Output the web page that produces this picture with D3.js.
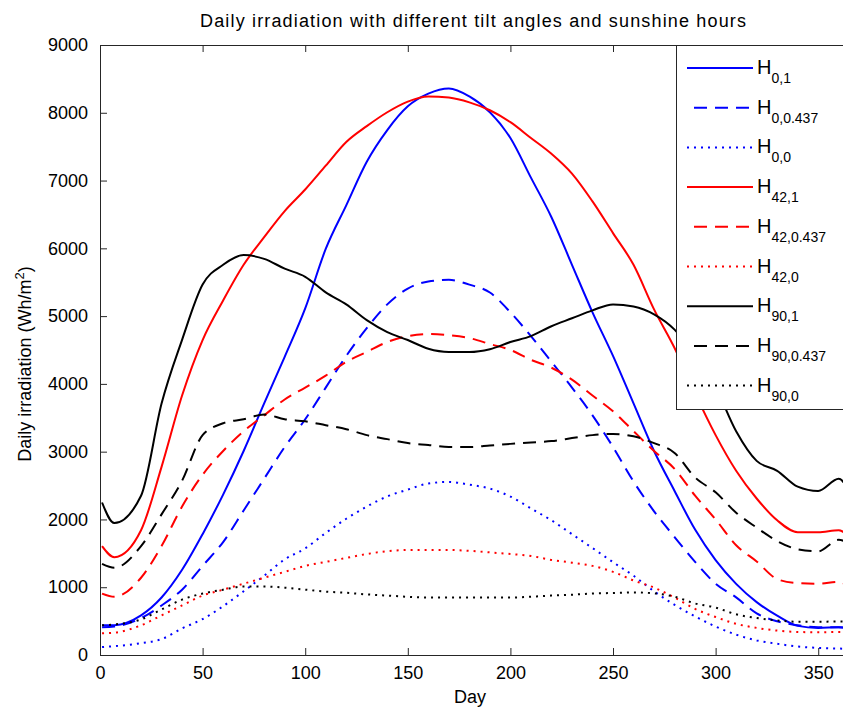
<!DOCTYPE html>
<html>
<head>
<meta charset="utf-8">
<script src="https://cdn.jsdelivr.net/npm/d3@7"></script>
<style>
  body { margin: 0; background: #fff; }
  svg { display: block; font-family: "Liberation Sans", Arial, sans-serif; }
</style>
</head>
<body>
<svg width="843" height="717"></svg>
<script>
const days = [1, 7, 20, 30, 40, 50, 60, 70, 80, 90, 100, 110, 120, 130, 140, 150, 160, 170, 180,
  190, 200, 210, 220, 230, 240, 250, 260, 270, 280, 290, 300, 310, 320, 330, 340, 350, 360, 365];

const h0_1 = [438, 440, 585, 848, 1257, 1783, 2367, 3010, 3712, 4400, 5114, 5991, 6634, 7277, 7745, 8095, 8282, 8358, 8241,
  8008, 7628, 7043, 6459, 5757, 5056, 4413, 3712, 3010, 2420, 1850, 1400, 1050, 780, 580, 430, 400, 410, 400];
const h0_0437 = [409, 420, 544, 731, 964, 1315, 1666, 2133, 2601, 3069, 3478, 3945, 4413, 4822, 5173, 5407, 5512, 5535, 5465,
  5348, 5056, 4705, 4325, 3945, 3536, 3069, 2560, 2120, 1740, 1374, 1052, 850, 614, 497, 438, 409, 409, 400];
const h0_0 = [117, 130, 175, 234, 393, 530, 720, 940, 1170, 1410, 1573, 1800, 2010, 2190, 2340, 2440, 2530, 2554, 2513,
  2455, 2338, 2163, 1987, 1783, 1578, 1370, 1170, 940, 740, 570, 420, 300, 215, 165, 125, 105, 95, 90];
const h42_1 = [1607, 1444, 1841, 2776, 3828, 4647, 5231, 5757, 6166, 6550, 6868, 7219, 7569, 7803, 8008, 8165, 8241, 8224, 8154,
  8037, 7861, 7628, 7394, 7102, 6692, 6225, 5757, 5100, 4530, 3860, 3244, 2718, 2309, 1987, 1812, 1812, 1841, 1750];
const h42_0437 = [906, 859, 1140, 1607, 2192, 2659, 3010, 3302, 3536, 3770, 3945, 4121, 4325, 4471, 4618, 4705, 4735, 4717, 4676,
  4588, 4501, 4355, 4238, 4062, 3828, 3595, 3302, 3010, 2747, 2350, 2000, 1620, 1380, 1120, 1060, 1052, 1080, 1000];
const h42_0 = [321, 330, 438, 585, 731, 877, 964, 1052, 1140, 1227, 1315, 1374, 1432, 1490, 1531, 1549, 1549, 1549, 1537,
  1514, 1490, 1461, 1403, 1362, 1315, 1227, 1100, 994, 848, 680, 560, 460, 400, 360, 340, 335, 340, 340];
const h90_1 = [2250, 1946, 2350, 3710, 4650, 5465, 5757, 5900, 5845, 5700, 5580, 5350, 5173, 4940, 4764, 4647, 4518, 4471, 4471,
  4512, 4618, 4705, 4851, 4968, 5085, 5173, 5143, 5027, 4800, 4400, 3950, 3302, 2864, 2718, 2484, 2420, 2601, 2426];
const h90_0437 = [1344, 1286, 1607, 2075, 2572, 3244, 3419, 3478, 3548, 3478, 3448, 3390, 3332, 3244, 3185, 3127, 3098, 3069, 3069,
  3090, 3115, 3135, 3156, 3200, 3244, 3261, 3226, 3127, 2981, 2620, 2400, 2100, 1880, 1680, 1560, 1530, 1700, 1650];
const h90_0 = [438, 450, 526, 672, 818, 906, 964, 1011, 1011, 994, 964, 935, 918, 894, 877, 859, 848, 848, 848,
  848, 848, 860, 877, 890, 906, 915, 923, 910, 860, 760, 700, 600, 545, 510, 490, 490, 495, 490];

const xTicks = [0, 50, 100, 150, 200, 250, 300, 350];
const yTicks = [0, 1000, 2000, 3000, 4000, 5000, 6000, 7000, 8000, 9000];

const series = [
  { sub: "0,1", values: h0_1, color: "#0000ff", dash: null },
  { sub: "0,0.437", values: h0_0437, color: "#0000ff", dash: "13,8" },
  { sub: "0,0", values: h0_0, color: "#0000ff", dash: "2,5" },
  { sub: "42,1", values: h42_1, color: "#ff0000", dash: null },
  { sub: "42,0.437", values: h42_0437, color: "#ff0000", dash: "13,8" },
  { sub: "42,0", values: h42_0, color: "#ff0000", dash: "2,5" },
  { sub: "90,1", values: h90_1, color: "#000000", dash: null },
  { sub: "90,0.437", values: h90_0437, color: "#000000", dash: "13,8" },
  { sub: "90,0", values: h90_0, color: "#000000", dash: "2,5" }
];

const svg = d3.select('svg');
const margin = { left: 100, top: 45, bottom: 655 };
const x = d3.scaleLinear().domain([0, 365]).range([margin.left, 849]);
const y = d3.scaleLinear().domain([0, 9000]).range([margin.bottom, margin.top]);

svg.append('clipPath').attr('id', 'plot')
  .append('rect').attr('x', margin.left).attr('y', margin.top)
  .attr('width', 749).attr('height', margin.bottom - margin.top);

// lines
const line = d3.line().x((d, i) => x(days[i])).y(d => y(d)).curve(d3.curveMonotoneX);
svg.append('g').attr('clip-path', 'url(#plot)')
  .selectAll('path').data(series).enter().append('path')
  .attr('d', d => line(d.values))
  .attr('fill', 'none')
  .attr('stroke', d => d.color)
  .attr('stroke-width', 2)
  .attr('stroke-dasharray', d => d.dash);

// axes (ticks inside, box on top)
const axisCol = '#262626';
const xb = svg.append('g').attr('transform', `translate(0,${margin.bottom})`)
  .call(d3.axisBottom(x).tickValues(xTicks).tickSizeInner(-7).tickSizeOuter(0).tickPadding(11));
const xt = svg.append('g').attr('transform', `translate(0,${margin.top})`)
  .call(d3.axisTop(x).tickValues(xTicks).tickSizeInner(-7).tickSizeOuter(0).tickFormat(''));
const yl = svg.append('g').attr('transform', `translate(${margin.left},0)`)
  .call(d3.axisLeft(y).tickValues(yTicks).tickFormat(d3.format('d')).tickSizeInner(-7).tickSizeOuter(0).tickPadding(12));
[xb, xt, yl].forEach(g => {
  g.select('.domain').attr('stroke', axisCol);
  g.selectAll('line').attr('stroke', axisCol);
  g.selectAll('text').attr('fill', '#000').style('font-size', '18px').style('font-family', '"Liberation Sans", Arial, sans-serif');
});

// title and axis labels
svg.append('text').attr('x', 473).attr('y', 27).attr('text-anchor', 'middle')
  .attr('textLength', 546).attr('lengthAdjust', 'spacing')
  .style('font-size', '18px').text('Daily irradiation with different tilt angles and sunshine hours');
svg.append('text').attr('x', 470).attr('y', 703).attr('text-anchor', 'middle')
  .style('font-size', '18px').text('Day');
const yt = svg.append('text').attr('transform', 'translate(31,364) rotate(-90)').attr('text-anchor', 'middle')
  .style('font-size', '18px');
yt.append('tspan').text('Daily irradiation (Wh/m');
yt.append('tspan').attr('dy', -7).style('font-size', '13px').text('2');
yt.append('tspan').attr('dy', 7).text(')');

// legend
const lg = svg.append('g');
lg.append('rect').attr('x', 676.5).attr('y', 45.5).attr('width', 180).attr('height', 364)
  .attr('fill', '#fff').attr('stroke', axisCol);
const rows = lg.selectAll('g.row').data(series).enter().append('g')
  .attr('transform', (d, i) => `translate(0,${68 + i * 39.7})`);
rows.append('line').attr('x1', d => d.dash === '13,8' ? 694 : 687).attr('x2', 753)
  .attr('stroke', d => d.color).attr('stroke-width', 2).attr('stroke-dasharray', d => d.dash);
const lt = rows.append('text').attr('x', 757).attr('y', 6).style('font-size', '20px');
lt.append('tspan').text('H');
lt.append('tspan').attr('dy', 9).style('font-size', '14px').text(d => d.sub);
</script>
</body>
</html>
